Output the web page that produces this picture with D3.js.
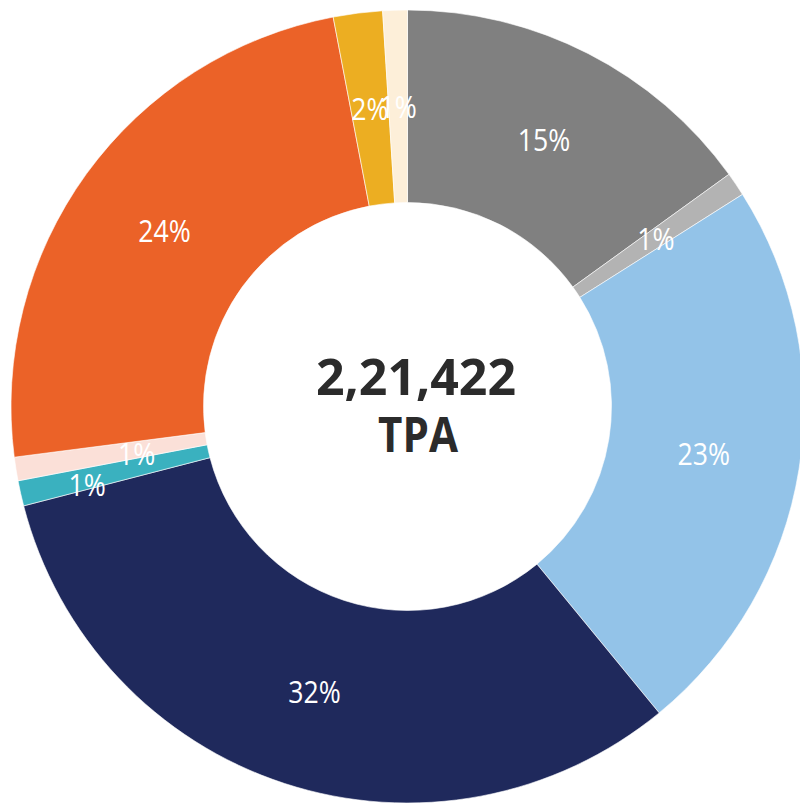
<!DOCTYPE html>
<html>
<head>
<meta charset="utf-8">
<script src="https://cdn.jsdelivr.net/npm/d3@7"></script>
<style>
  html, body { margin: 0; padding: 0; background: #ffffff; }
  svg { display: block; }
</style>
</head>
<body>
<div id="chart"></div>
<script>
// ---- data ----
const categories = ["Grey", "Light grey", "Light blue", "Navy", "Teal", "Pale pink", "Orange", "Gold", "Cream"];
const values = [15.04, 0.97, 23.03, 31.9, 1.03, 0.96, 24.03, 2.0, 1.0];
const labels = ["15%", "1%", "23%", "32%", "1%", "1%", "24%", "2%", "1%"];
const colors = ["#808080", "#b3b3b3", "#93c3e8", "#1f295c", "#3ab1bf", "#fbe0d8", "#eb6228", "#ecae22", "#fdefd9"];
const centerLines = ["2,21,422", "TPA"];

// ---- layout ----
const W = 800, H = 805;
const cx = 407.5, cy = 406.5;
const outerR = 396.5, innerR = 204;
const labelR = 300;
// label radius tweaks for the two tiny neighbouring slices (best-fit style)
const labelRadiusOverride = { 4: 330, 5: 275 };
const labelAngleNudge = { 4: -0.02, 5: -0.015 };

const svg = d3.select("#chart").append("svg")
  .attr("width", W).attr("height", H);

const g = svg.append("g").attr("transform", `translate(${cx},${cy})`);

const pie = d3.pie().sort(null).value(d => d.v);
const data = pie(values.map((v, i) => ({ v, i })));

const arc = d3.arc().innerRadius(innerR).outerRadius(outerR);

g.selectAll("path.slice")
  .data(data)
  .join("path")
  .attr("class", "slice")
  .attr("d", arc)
  .attr("fill", d => colors[d.data.i])
  .attr("stroke", "#ffffff")
  .attr("stroke-width", 0.6);

const fontFamily = "'Open Sans', 'Noto Sans', sans-serif";

g.selectAll("text.lbl")
  .data(data)
  .join("text")
  .attr("class", "lbl")
  .attr("transform", d => {
    const i = d.data.i;
    const r = labelRadiusOverride[i] !== undefined ? labelRadiusOverride[i] : labelR;
    const a = (d.startAngle + d.endAngle) / 2 + (labelAngleNudge[i] || 0);
    const x = r * Math.sin(a), y = -r * Math.cos(a);
    return `translate(${x},${y}) scale(0.86,1)`;
  })
  .attr("text-anchor", "middle")
  .attr("dy", "0.36em")
  .attr("fill", "#ffffff")
  .style("font-family", fontFamily)
  .style("font-size", "31px")
  .text(d => labels[d.data.i]);

const center = svg.append("g");
center.append("text")
  .attr("x", 416).attr("y", 395)
  .attr("text-anchor", "middle")
  .attr("fill", "#2b2b2b")
  .style("font-family", fontFamily)
  .style("font-weight", "700")
  .style("font-size", "50px")
  .text(centerLines[0]);
center.append("text")
  .attr("transform", "translate(418,452) scale(0.86,1)")
  .attr("text-anchor", "middle")
  .attr("fill", "#2b2b2b")
  .style("font-family", fontFamily)
  .style("font-weight", "700")
  .style("font-size", "49px")
  .text(centerLines[1]);
</script>
</body>
</html>
